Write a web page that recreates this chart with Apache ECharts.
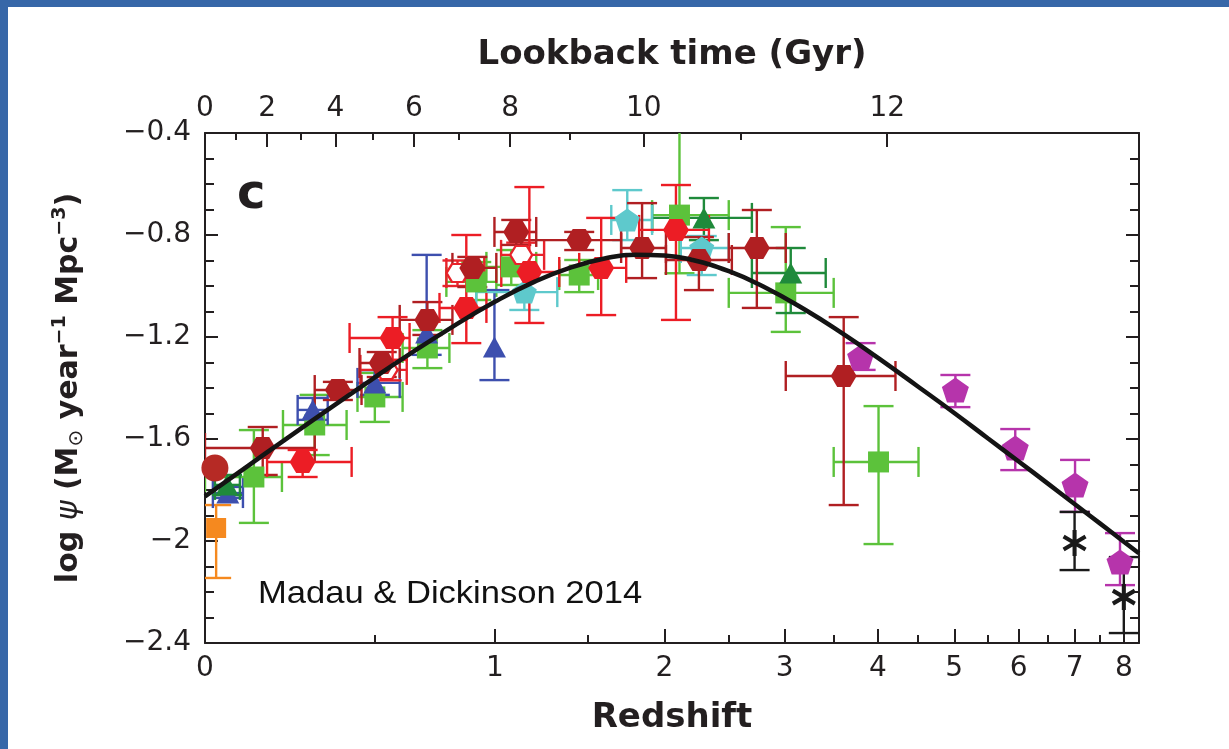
<!DOCTYPE html>
<html><head><meta charset="utf-8">
<script src="https://cdn.jsdelivr.net/npm/echarts@6/dist/echarts.min.js"></script>
<style>html,body{margin:0;padding:0;background:#fff;}#c{width:1229px;height:749px;}</style>
</head><body><div id="c"></div>
<script>
// ---------- axis ticks ----------
const redshiftTicks = [0, 1, 2, 3, 4, 5, 6, 7, 8];
const redshiftMinorTicks = [0.5, 1.5, 2.5, 3.5, 4.5, 5.5, 6.5, 7.5];
const lookbackTicks = [0, 2, 4, 6, 8, 10, 12];
const lookbackMinorTicks = [1, 3, 5, 7, 9, 11];
const yMin = -2.4, yMax = -0.4, yStep = 0.4;
const zMaxLog = 0.97;

// ---------- fit curve ----------
const curveZ = [0, 0.1, 0.2, 0.3, 0.4, 0.5, 0.6, 0.8, 1.0, 1.2, 1.4, 1.6, 1.8, 2.0, 2.2, 2.5, 2.8, 3.2, 3.6, 4.0, 4.5, 5, 5.5, 6, 6.5, 7, 7.5, 8, 8.33];
const curveLogPsi = [-1.825, -1.714, -1.613, -1.521, -1.437, -1.359, -1.288, -1.164, -1.062, -0.983, -0.927, -0.892, -0.877, -0.880, -0.897, -0.942, -1.002, -1.093, -1.188, -1.282, -1.394, -1.498, -1.597, -1.688, -1.774, -1.855, -1.931, -2.003, -2.048];

// ---------- data points: [z, logPsi, zLow, zHigh, yHigh, yLow] ----------
const redHex = [
  [0.263, -1.690, 0.160, 0.420, -1.643, -1.749],
  [0.566, -1.204, 0.413, 0.631, -1.122, -1.290],
  [0.868, -1.086, 0.752, 0.960, -0.800, -1.224],
  [1.172, -0.945, 1.031, 1.333, -0.612, -1.145],
  [1.579, -0.929, 1.447, 1.738, -0.733, -1.114],
  [2.084, -0.780, 1.824, 2.337, -0.604, -1.133]
];
const darkRedHex = [
  [0.148, -1.635, 0.000, 0.300, -1.553, -1.741],
  [0.374, -1.408, 0.300, 0.454, -1.376, -1.447],
  [0.526, -1.302, 0.447, 0.593, -1.259, -1.357],
  [0.702, -1.133, 0.593, 0.807, -1.063, -1.192],
  [0.895, -0.929, 0.807, 1.007, -0.886, -1.004],
  [1.105, -0.788, 0.998, 1.208, -0.741, -0.839],
  [1.447, -0.820, 1.130, 1.705, -0.788, -0.859],
  [1.844, -0.851, 1.705, 2.011, -0.675, -0.969],
  [2.258, -0.898, 2.011, 2.525, -0.808, -1.016],
  [2.742, -0.851, 2.499, 3.010, -0.702, -1.086],
  [3.606, -1.353, 3.010, 4.213, -1.122, -1.859]
];
const redOpenHex = [
  [0.544, -1.329, 0.450, 0.620, -1.290, -1.370],
  [0.829, -0.949, 0.781, 0.950, -0.900, -1.000],
  [1.130, -0.878, 1.030, 1.250, -0.830, -0.930]
];
const darkRedCircle = [
  [0.024, -1.714, null, null, null, null]
];
const greenSq = [
  [0.124, -1.749, 0.000, 0.202, -1.565, -1.929],
  [0.300, -1.545, 0.205, 0.403, -1.427, -1.663],
  [0.501, -1.435, 0.440, 0.604, -1.341, -1.533],
  [0.702, -1.243, 0.604, 0.794, -1.173, -1.322],
  [0.913, -0.984, 0.781, 1.007, -0.906, -1.055],
  [1.080, -0.925, 0.960, 1.208, -0.859, -0.996],
  [1.447, -0.957, 1.333, 1.560, -0.898, -1.024],
  [2.110, -0.722, 1.913, 2.499, -0.300, -0.950],
  [3.010, -1.027, 2.499, 3.497, -0.769, -1.180],
  [4.006, -1.690, 3.497, 4.508, -1.471, -2.012]
];
const darkGreenTri = [
  [0.054, -1.780, 0.024, 0.087, -1.741, -1.820],
  [2.297, -0.733, 1.913, 2.698, -0.655, -0.820],
  [3.058, -0.949, 2.698, 3.412, -0.851, -1.106]
];
const blueTri = [
  [0.056, -1.812, 0.019, 0.095, -1.788, -1.831],
  [0.294, -1.486, 0.248, 0.341, -1.439, -1.525],
  [0.501, -1.380, 0.440, 0.593, -1.330, -1.427],
  [0.699, -1.184, null, null, -0.878, -1.270],
  [0.998, -1.239, null, null, -1.016, -1.369]
];
const cyanPent = [
  [1.146, -1.024, 0.913, 1.322, -0.949, -1.094],
  [1.745, -0.741, 1.642, 1.913, -0.624, -0.820],
  [2.280, -0.851, 2.120, 2.499, -0.804, -0.957]
];
const magentaPent = [
  [3.796, -1.278, null, null, -1.224, -1.329],
  [5.016, -1.408, null, null, -1.349, -1.475],
  [5.942, -1.635, null, null, -1.561, -1.722],
  [7.009, -1.780, null, null, -1.682, -1.886],
  [7.918, -2.082, null, null, -1.969, -2.173]
];
const blackStar = [
  [7.000, -2.008, null, null, -1.886, -2.114],
  [8.000, -2.220, null, null, -2.063, -2.361]
];
const orangeSq = [
  [0.027, -1.949, null, null, -1.859, -2.145]
];

// ---------- helpers ----------
const L = z => Math.log10(1 + z);
// lookback time (Gyr) for flat LCDM, H0=70, Om=0.3 -> redshift (tick positions only)
function ageAt(z) {
  const Om = 0.3, OL = 0.7, hubbleT = 977.8 / 70;
  return (2 / (3 * Math.sqrt(OL))) * hubbleT * Math.asinh(Math.sqrt(OL / Om) * Math.pow(1 + z, -1.5));
}
function zFromLookback(t) {
  if (t <= 0) return 0;
  const t0 = ageAt(0);
  let lo = 0, hi = 50;
  for (let i = 0; i < 80; i++) {
    const mid = (lo + hi) / 2;
    if (t0 - ageAt(mid) < t) lo = mid; else hi = mid;
  }
  return (lo + hi) / 2;
}
const lookbackPos = lookbackTicks.map(t => L(zFromLookback(t)));
const lookbackMinorPos = lookbackMinorTicks.map(t => L(zFromLookback(t)));
const redshiftPos = redshiftTicks.map(L);
const redshiftMinorPos = redshiftMinorTicks.map(L);

function nearestLabel(v, pos, labels) {
  let bi = 0, bd = Infinity;
  pos.forEach((p, i) => { const d = Math.abs(p - v); if (d < bd) { bd = d; bi = i; } });
  return String(labels[bi]);
}

function toErr(rows) {
  return rows.map(r => {
    const x = L(r[0]), y = r[1];
    const x0 = r[2] == null ? x : L(r[2]);
    const x1 = r[3] == null ? x : L(r[3]);
    const y0 = r[4] == null ? y : r[4];
    const y1 = r[5] == null ? y : r[5];
    return [x, y, x0, x1, y0, y1];
  });
}
function toPts(rows) { return rows.map(r => [L(r[0]), r[1]]); }

function errRender(color) {
  return function (params, api) {
    const x = api.value(0), y = api.value(1);
    const x0 = api.value(2), x1 = api.value(3), y0 = api.value(4), y1 = api.value(5);
    const cap = 15;
    const st = { stroke: color, lineWidth: 2.4, fill: null };
    const ch = [];
    if (Math.abs(y1 - y0) > 1e-9) {
      const a = api.coord([x, y0]), b = api.coord([x, y1]);
      ch.push({ type: 'line', shape: { x1: a[0], y1: a[1], x2: b[0], y2: b[1] }, style: st });
      ch.push({ type: 'line', shape: { x1: a[0] - cap, y1: a[1], x2: a[0] + cap, y2: a[1] }, style: st });
      ch.push({ type: 'line', shape: { x1: b[0] - cap, y1: b[1], x2: b[0] + cap, y2: b[1] }, style: st });
    }
    if (Math.abs(x1 - x0) > 1e-9) {
      const a = api.coord([x0, y]), b = api.coord([x1, y]);
      ch.push({ type: 'line', shape: { x1: a[0], y1: a[1], x2: b[0], y2: b[1] }, style: st });
      ch.push({ type: 'line', shape: { x1: a[0], y1: a[1] - cap, x2: a[0], y2: a[1] + cap }, style: st });
      ch.push({ type: 'line', shape: { x1: b[0], y1: b[1] - cap, x2: b[0], y2: b[1] + cap }, style: st });
    }
    return { type: 'group', children: ch };
  };
}

const HEX = 'path://M-1,0 L-0.5,-0.866 L0.5,-0.866 L1,0 L0.5,0.866 L-0.5,0.866 Z';
const PENT = 'path://M0,-1 L0.951,-0.309 L0.588,0.809 L-0.588,0.809 L-0.951,-0.309 Z';
const STAR = 'path://M-0.16,1 L0.16,1 L0.16,-1 L-0.16,-1 Z M0.786,0.639 L0.946,0.361 L-0.786,-0.639 L-0.946,-0.361 Z M-0.946,0.361 L-0.786,0.639 L0.946,-0.361 L0.786,-0.639 Z';

const groups = [
  { rows: darkRedCircle, color: '#b62a25', symbol: 'circle', size: 27 },
  { rows: orangeSq, color: '#f5891f', symbol: 'rect', size: 20 },
  { rows: greenSq, color: '#5cc23b', symbol: 'rect', size: 21 },
  { rows: blueTri, color: '#3d4fae', symbol: 'triangle', size: [23, 21] },
  { rows: darkGreenTri, color: '#1f8a3b', symbol: 'triangle', size: [23, 21] },
  { rows: cyanPent, color: '#5ec9cc', symbol: PENT, size: [25, 23] },
  { rows: redOpenHex, color: '#e8232b', symbol: HEX, size: [22, 18], open: true },
  { rows: darkRedHex, color: '#b01f22', symbol: HEX, size: [26, 22] },
  { rows: redHex, color: '#ec1d25', symbol: HEX, size: [26, 22] },
  { rows: magentaPent, color: '#b634ab', symbol: PENT, size: [27, 25] },
  { rows: blackStar, color: '#1a1a1a', symbol: STAR, size: [24, 26] }
];

const series = [];
groups.forEach(g => {
  series.push({
    type: 'custom', xAxisIndex: 0, yAxisIndex: 0, clip: true, z: 2,
    renderItem: errRender(g.color), data: toErr(g.rows), silent: true
  });
});
groups.forEach(g => {
  series.push({
    type: 'scatter', xAxisIndex: 0, yAxisIndex: 0, z: 3,
    symbol: g.symbol, symbolSize: g.size, data: toPts(g.rows), silent: true,
    itemStyle: g.open ? { color: '#ffffff', borderColor: g.color, borderWidth: 2.2, opacity: 1 }
                      : { color: g.color, opacity: 1 }
  });
});
series.push({
  type: 'line', xAxisIndex: 0, yAxisIndex: 0, z: 5, smooth: true, symbol: 'none', silent: true,
  data: curveZ.map((z, i) => [L(z), curveLogPsi[i]]),
  lineStyle: { color: '#141414', width: 4.5 }
});

const FONT = 'DejaVu Sans';
const TXT = '#231f20';
const axisLine = { show: true, onZero: false, lineStyle: { color: '#231f20', width: 2 } };
const tickFont = { fontFamily: FONT, fontSize: 28, color: TXT };

const option = {
  animation: false,
  backgroundColor: '#ffffff',
  grid: { left: 205, top: 133, width: 934, height: 510, containLabel: false },
  xAxis: [
    { // bottom, redshift majors
      type: 'value', position: 'bottom', min: 0, max: zMaxLog,
      axisLine: axisLine,
      splitLine: { show: false },
      axisTick: { show: true, inside: true, length: 14, customValues: redshiftPos, lineStyle: { color: TXT, width: 2 } },
      axisLabel: Object.assign({ show: true, customValues: redshiftPos, margin: 12,
        formatter: v => nearestLabel(v, redshiftPos, redshiftTicks) }, tickFont),
      name: 'Redshift', nameLocation: 'middle', nameGap: 58,
      nameTextStyle: { fontFamily: FONT, fontWeight: 'bold', fontSize: 34, color: TXT }
    },
    { // bottom, redshift minors
      type: 'value', position: 'bottom', min: 0, max: zMaxLog,
      axisLine: { show: false, onZero: false }, splitLine: { show: false },
      axisTick: { show: true, inside: true, length: 8, customValues: redshiftMinorPos, lineStyle: { color: TXT, width: 2 } },
      axisLabel: { show: false }
    },
    { // top, lookback majors
      type: 'value', position: 'top', min: 0, max: zMaxLog,
      axisLine: axisLine, splitLine: { show: false },
      axisTick: { show: true, inside: true, length: 14, customValues: lookbackPos, lineStyle: { color: TXT, width: 2 } },
      axisLabel: Object.assign({ show: true, customValues: lookbackPos, margin: 10,
        formatter: v => nearestLabel(v, lookbackPos, lookbackTicks) }, tickFont),
      name: 'Lookback time (Gyr)', nameLocation: 'middle', nameGap: 61,
      nameTextStyle: { fontFamily: FONT, fontWeight: 'bold', fontSize: 34, color: TXT }
    },
    { // top, lookback minors
      type: 'value', position: 'top', min: 0, max: zMaxLog,
      axisLine: { show: false, onZero: false }, splitLine: { show: false },
      axisTick: { show: true, inside: true, length: 7, customValues: lookbackMinorPos, lineStyle: { color: TXT, width: 2 } },
      axisLabel: { show: false }
    }
  ],
  yAxis: [
    {
      type: 'value', position: 'left', min: yMin, max: yMax, interval: yStep,
      axisLine: axisLine, splitLine: { show: false },
      axisTick: { show: true, inside: true, length: 13, lineStyle: { color: TXT, width: 2 } },
      minorTick: { show: true, splitNumber: 4, length: 9, lineStyle: { color: TXT, width: 2 } },
      minorSplitLine: { show: false },
      axisLabel: Object.assign({ margin: 14,
        formatter: v => {
          const s = Math.abs(v - Math.round(v)) < 1e-9 ? String(Math.round(v)) : v.toFixed(1);
          return s.replace('-', '\u2212');
        } }, tickFont),
      name: '{t|log }{i|\u03C8}{t| (M}{s|\u2299}{t| year}{p|\u22121}{t| Mpc}{p|\u22123}{t|)}',
      nameLocation: 'middle', nameGap: 118, nameRotate: 90,
      nameTextStyle: {
        fontFamily: FONT, fontWeight: 'bold', fontSize: 30, color: TXT,
        rich: {
          t: { fontFamily: FONT, fontWeight: 'bold', fontSize: 30, color: TXT, lineHeight: 36 },
          i: { fontFamily: FONT, fontStyle: 'italic', fontWeight: 'normal', fontSize: 30, color: TXT, lineHeight: 36 },
          s: { fontFamily: FONT, fontWeight: 'normal', fontSize: 20, color: TXT, verticalAlign: 'bottom', lineHeight: 36, padding: [10, 0, 0, 0] },
          p: { fontFamily: FONT, fontWeight: 'bold', fontSize: 19, color: TXT, verticalAlign: 'top', lineHeight: 36, padding: [0, 0, 12, 0] }
        }
      }
    },
    {
      type: 'value', position: 'right', min: yMin, max: yMax, interval: yStep,
      axisLine: axisLine, splitLine: { show: false },
      axisTick: { show: true, inside: true, length: 13, lineStyle: { color: TXT, width: 2 } },
      minorTick: { show: true, splitNumber: 4, length: 9, lineStyle: { color: TXT, width: 2 } },
      axisLabel: { show: false }
    }
  ],
  graphic: [
    { type: 'rect', shape: { x: 0, y: 0, width: 1229, height: 7 }, style: { fill: '#3767a8' }, z: 100 },
    { type: 'rect', shape: { x: 0, y: 0, width: 8, height: 749 }, style: { fill: '#3767a8' }, z: 100 },
    { type: 'text', x: 237, y: 196, z: 100,
      style: { text: 'c', fontFamily: FONT, fontWeight: 'bold', fontSize: 48, fill: TXT, verticalAlign: 'middle' } },
    { type: 'text', x: 258, y: 594, scaleX: 1.08, z: 100,
      style: { text: 'Madau & Dickinson 2014', fontFamily: 'Liberation Sans', fontSize: 32, fill: '#111111', verticalAlign: 'middle' } }
  ],
  series: series
};

const chart = echarts.init(document.getElementById('c'), null, { renderer: 'canvas' });
chart.setOption(option);
</script>
</body></html>
